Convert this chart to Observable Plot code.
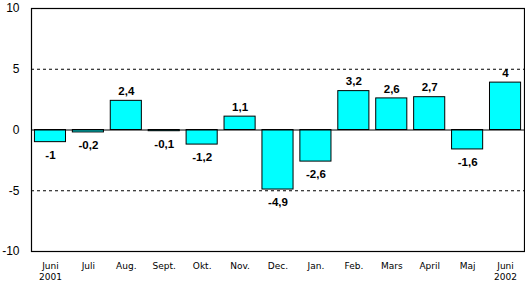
<!DOCTYPE html>
<html>
<head>
<meta charset="utf-8">
<script src="https://cdn.jsdelivr.net/npm/d3@7"></script>
<script src="https://cdn.jsdelivr.net/npm/@observablehq/plot@0.6"></script>
<style>
  html, body { margin: 0; padding: 0; background: #fff; }
  #chart svg { display: block; }
</style>
</head>
<body>
<div id="chart"></div>
<script>
const months = ["Juni\n2001", "Juli", "Aug.", "Sept.", "Okt.", "Nov.", "Dec.", "Jan.", "Feb.", "Mars", "April", "Maj", "Juni\n2002"];
const values = [-1, -0.2, 2.4, -0.1, -1.2, 1.1, -4.9, -2.6, 3.2, 2.6, 2.7, -1.6, 3.9];
const valueLabels = ["-1", "-0,2", "2,4", "-0,1", "-1,2", "1,1", "-4,9", "-2,6", "3,2", "2,6", "2,7", "-1,6", "4"];
const yTicks = [-10, -5, 0, 5, 10];
const gridLines = [-5, 5];

const data = months.map((m, i) => ({month: m, value: values[i], label: valueLabels[i]}));
const pos = data.filter(d => d.value >= 0);
const neg = data.filter(d => d.value < 0);

const chart = Plot.plot({
  width: 525,
  height: 283,
  marginLeft: 31,
  marginRight: 1,
  marginTop: 8,
  marginBottom: 32,
  style: {fontFamily: "'Liberation Sans', Arial, sans-serif", background: "#fff", color: "#000"},
  x: {domain: months, paddingInner: 0.18, paddingOuter: 0.09, round: false, label: null},
  y: {domain: [-10, 10], label: null},
  marks: [
    Plot.ruleY(gridLines, {stroke: "#000", strokeDasharray: "3,3", strokeWidth: 1}),
    Plot.barY(data, {x: "month", y: "value", fill: "#00ffff", stroke: "#000", strokeWidth: 1}),
    Plot.ruleY([0], {stroke: "#000", strokeWidth: 1}),
    Plot.text(pos, {x: "month", y: "value", text: "label", dy: -9.5, fontWeight: "bold", fontSize: 11.5, fill: "#000"}),
    Plot.text(neg, {x: "month", y: "value", text: "label", dy: 13, fontWeight: "bold", fontSize: 11.5, fill: "#000"}),
    Plot.axisY({ticks: yTicks, tickSize: 0, tickPadding: 12, fontSize: 12, label: null, tickFormat: d => String(d)}),
    Plot.axisX({tickSize: 0, tickPadding: 10, fontSize: 9, fontFamily: "'DejaVu Sans', Verdana, sans-serif", label: null, lineHeight: 1.22}),
    Plot.frame({stroke: "#000", strokeWidth: 1.2})
  ]
});
document.getElementById("chart").appendChild(chart);
</script>
</body>
</html>
